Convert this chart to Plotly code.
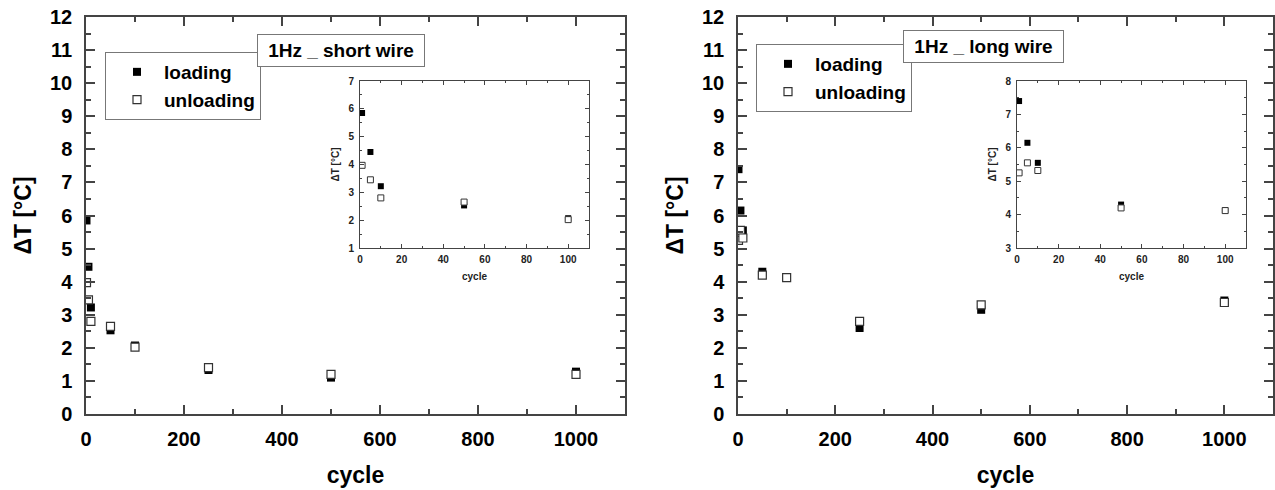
import plotly.graph_objects as go

# ---- data ----
cycles = [1, 5, 10, 50, 100, 250, 500, 1000]
short_loading = [5.85, 4.45, 3.22, 2.53, 2.07, 1.33, 1.10, 1.28]
short_unloading = [3.97, 3.45, 2.80, 2.65, 2.02, 1.40, 1.20, 1.20]
long_loading = [7.40, 6.15, 5.55, 4.30, 4.13, 2.60, 3.15, 3.43]
long_unloading = [5.25, 5.55, 5.32, 4.20, 4.12, 2.80, 3.30, 3.37]
series_names = ["loading", "unloading"]
panel_titles = ["1Hz _ short wire", "1Hz _ long wire"]
inset_max_cycle = 100

W, H = 1275, 490
FONT = "Liberation Sans, Arial, sans-serif"
AX = "#444444"


def px_x(p):
    return p / W


def px_y(p):
    return 1 - p / H


fig = go.Figure()

inset_idx = [i for i, c in enumerate(cycles) if c <= inset_max_cycle]

panels = [
    (short_loading, short_unloading, "x", "y", "x3", "y3", "legend"),
    (long_loading, long_unloading, "x2", "y2", "x4", "y4", "legend2"),
]
for load, unload, xa, ya, xi, yi, lg in panels:
    fig.add_trace(go.Scatter(x=cycles, y=load, mode="markers", name=series_names[0],
                             marker=dict(symbol="square", size=8, color="black"),
                             xaxis=xa, yaxis=ya, legend=lg))
    fig.add_trace(go.Scatter(x=cycles, y=unload, mode="markers", name=series_names[1],
                             marker=dict(symbol="square", size=8, color="white",
                                         line=dict(color="#333333", width=1.2)),
                             xaxis=xa, yaxis=ya, legend=lg))
    fig.add_trace(go.Scatter(x=[cycles[i] for i in inset_idx], y=[load[i] for i in inset_idx],
                             mode="markers", showlegend=False,
                             marker=dict(symbol="square", size=6, color="black"),
                             xaxis=xi, yaxis=yi))
    fig.add_trace(go.Scatter(x=[cycles[i] for i in inset_idx], y=[unload[i] for i in inset_idx],
                             mode="markers", showlegend=False,
                             marker=dict(symbol="square", size=6, color="white",
                                         line=dict(color="#333333", width=1)),
                             xaxis=xi, yaxis=yi))


def main_axes(xdom, ydom, anchor_x, anchor_y):
    xa = dict(domain=xdom, anchor=anchor_y, range=[0, 1100], dtick=200, tick0=0,
              showline=True, linecolor=AX, linewidth=1.5, mirror="ticks",
              ticks="inside", ticklen=9, tickwidth=1.5, tickcolor=AX,
              minor=dict(ticks="inside", dtick=100, ticklen=5, tickwidth=1.5, tickcolor=AX),
              showgrid=False, zeroline=False, ticklabeloverflow="allow",
              tickfont=dict(family=FONT, size=20, color="black", weight="bold"),
              ticklabelstandoff=6,
              title=dict(text="cycle", font=dict(family=FONT, size=23, color="black", weight="bold"),
                         standoff=18))
    ya = dict(domain=ydom, anchor=anchor_x, range=[0, 12], dtick=1, tick0=0,
              showline=True, linecolor=AX, linewidth=1.5, mirror="ticks",
              ticks="inside", ticklen=9, tickwidth=1.5, tickcolor=AX,
              minor=dict(ticks="inside", dtick=0.5, ticklen=5, tickwidth=1.5, tickcolor=AX),
              showgrid=False, zeroline=False, ticklabeloverflow="allow",
              tickfont=dict(family=FONT, size=20, color="black", weight="bold"),
              ticklabelstandoff=8,
              title=dict(text="ΔT [°C]", font=dict(family=FONT, size=23, color="black", weight="bold"),
                         standoff=12))
    return xa, ya


def inset_axes(xdom, ydom, anchor_x, anchor_y, yr):
    xa = dict(domain=xdom, anchor=anchor_y, range=[0, 110], dtick=20, tick0=0,
              showline=True, linecolor=AX, linewidth=1, mirror="ticks",
              ticks="inside", ticklen=4, tickwidth=1, tickcolor=AX,
              minor=dict(ticks="inside", dtick=10, ticklen=2, tickwidth=1, tickcolor=AX),
              showgrid=False, zeroline=False,
              tickfont=dict(family=FONT, size=10, color="#222", weight="bold"),
              ticklabelstandoff=2,
              title=dict(text="cycle", font=dict(family=FONT, size=10, color="#222", weight="bold"),
                         standoff=8))
    ya = dict(domain=ydom, anchor=anchor_x, range=yr, dtick=1, tick0=0,
              showline=True, linecolor=AX, linewidth=1, mirror="ticks",
              ticks="inside", ticklen=4, tickwidth=1, tickcolor=AX,
              minor=dict(ticks="inside", dtick=0.5, ticklen=2, tickwidth=1, tickcolor=AX),
              showgrid=False, zeroline=False,
              tickfont=dict(family=FONT, size=10, color="#222", weight="bold"),
              ticklabelstandoff=3,
              title=dict(text="ΔT [°C]", font=dict(family=FONT, size=10, color="#222", weight="bold"),
                         standoff=6))
    return xa, ya


main_y = [px_y(414), px_y(17)]
x1, y1 = main_axes([px_x(86), px_x(625)], main_y, "x", "y")
x2, y2 = main_axes([px_x(738), px_x(1273)], main_y, "x2", "y2")
inset_y = [px_y(248), px_y(81)]
x3, y3 = inset_axes([px_x(360), px_x(589)], inset_y, "x3", "y3", [1, 7])
x4, y4 = inset_axes([px_x(1017), px_x(1246)], inset_y, "x4", "y4", [3, 8])

legend_common = dict(
    bgcolor="white", bordercolor="#777777", borderwidth=1,
    font=dict(family=FONT, size=19, color="black", weight="bold"),
    xanchor="left", yanchor="top", itemwidth=44, tracegroupgap=0, indentation=4,
)

fig.update_layout(
    width=W, height=H,
    margin=dict(l=0, r=0, t=0, b=0, autoexpand=False),
    paper_bgcolor="white", plot_bgcolor="rgba(0,0,0,0)",
    xaxis=x1, yaxis=y1, xaxis2=x2, yaxis2=y2, xaxis3=x3, yaxis3=y3, xaxis4=x4, yaxis4=y4,
    legend=dict(x=px_x(105), y=px_y(52), **legend_common),
    legend2=dict(x=px_x(756), y=px_y(44), **legend_common),
    showlegend=True,
)

for txt, cx, cy, w in [(panel_titles[0], 341, 50.5, 156), (panel_titles[1], 983.5, 46.5, 149)]:
    fig.add_annotation(text=txt, x=px_x(cx), y=px_y(cy), xref="paper", yref="paper",
                       showarrow=False, xanchor="center", yanchor="middle",
                       width=w, height=21, align="center", valign="middle",
                       font=dict(family=FONT, size=19, color="black", weight="bold"),
                       bgcolor="white", bordercolor="#777777", borderwidth=1, borderpad=5)

fig.write_html("out.html", config={"displayModeBar": False},
               post_script="document.body.style.margin='0';document.body.style.overflow='hidden';")
